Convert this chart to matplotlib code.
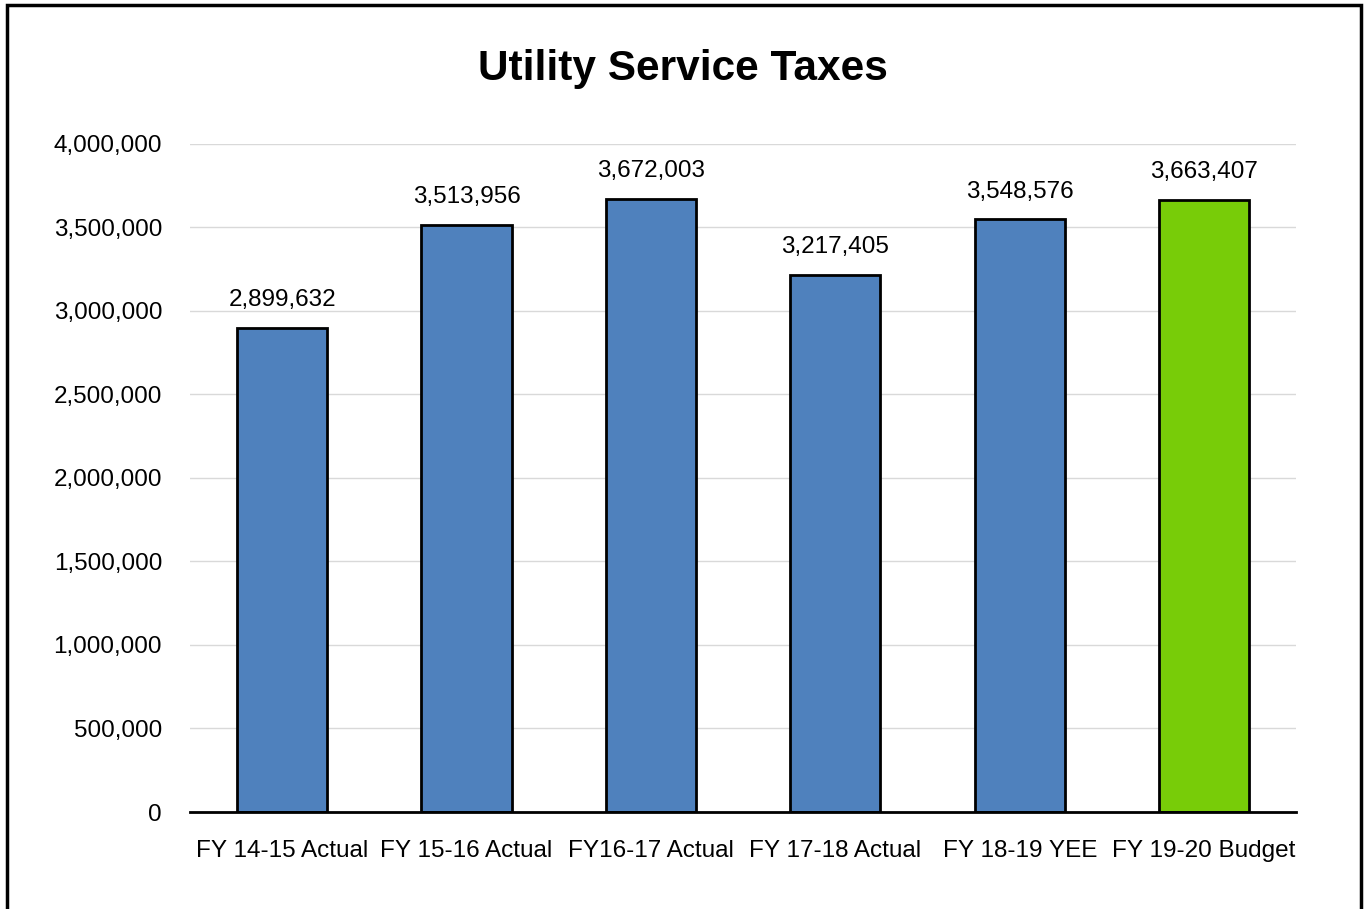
import matplotlib.pyplot as plt
import matplotlib.patches as patches
from matplotlib.ticker import FuncFormatter

plt.rcParams['font.family'] = ['Liberation Sans', 'DejaVu Sans']

# Utility service tax revenue per fiscal year
categories = ["FY 14-15 Actual", "FY 15-16 Actual", "FY16-17 Actual",
              "FY 17-18 Actual", "FY 18-19 YEE", "FY 19-20 Budget"]
values = [2899632, 3513956, 3672003, 3217405, 3548576, 3663407]
bar_colors = ["#4F81BD"] * 5 + ["#78CC08"]

fig = plt.figure(figsize=(13.66, 9.09), dpi=100)
ax = fig.add_axes([0.139, 0.1067, 0.81, 0.735])

x = list(range(len(categories)))
ax.bar(x, values, width=0.49, color=bar_colors, edgecolor="black",
       linewidth=2, zorder=3)

for xi, v in zip(x, values):
    ax.annotate(f"{v:,}", (xi, v), xytext=(0, 12), textcoords="offset points",
                ha="center", va="bottom", fontsize=17.5)

ax.set_xlim(-0.5, len(categories) - 0.5)
ax.set_ylim(0, 4000000)
ax.set_yticks(range(0, 4000001, 500000))
ax.yaxis.set_major_formatter(FuncFormatter(lambda v, p: f"{int(v):,}"))
ax.set_xticks(x)
ax.set_xticklabels(categories)
ax.tick_params(axis="both", length=0, labelsize=17.5)
ax.tick_params(axis="y", pad=20)
ax.tick_params(axis="x", pad=20)

ax.grid(axis="y", color="#D9D9D9", linewidth=1, zorder=0)
for side in ["top", "right", "left"]:
    ax.spines[side].set_visible(False)
ax.spines["bottom"].set_linewidth(2)
ax.spines["bottom"].set_zorder(4)

fig.text(0.5, 0.9245, "Utility Service Taxes", ha="center", va="center",
         fontsize=30.5, fontweight="bold")

# outer frame, open at the bottom edge
frame = patches.Rectangle((0.0051, -0.05), 0.9912, 1.045, transform=fig.transFigure,
                          fill=False, edgecolor="black", linewidth=2.5)
fig.patches.append(frame)

fig.savefig("out.png", dpi=100)
